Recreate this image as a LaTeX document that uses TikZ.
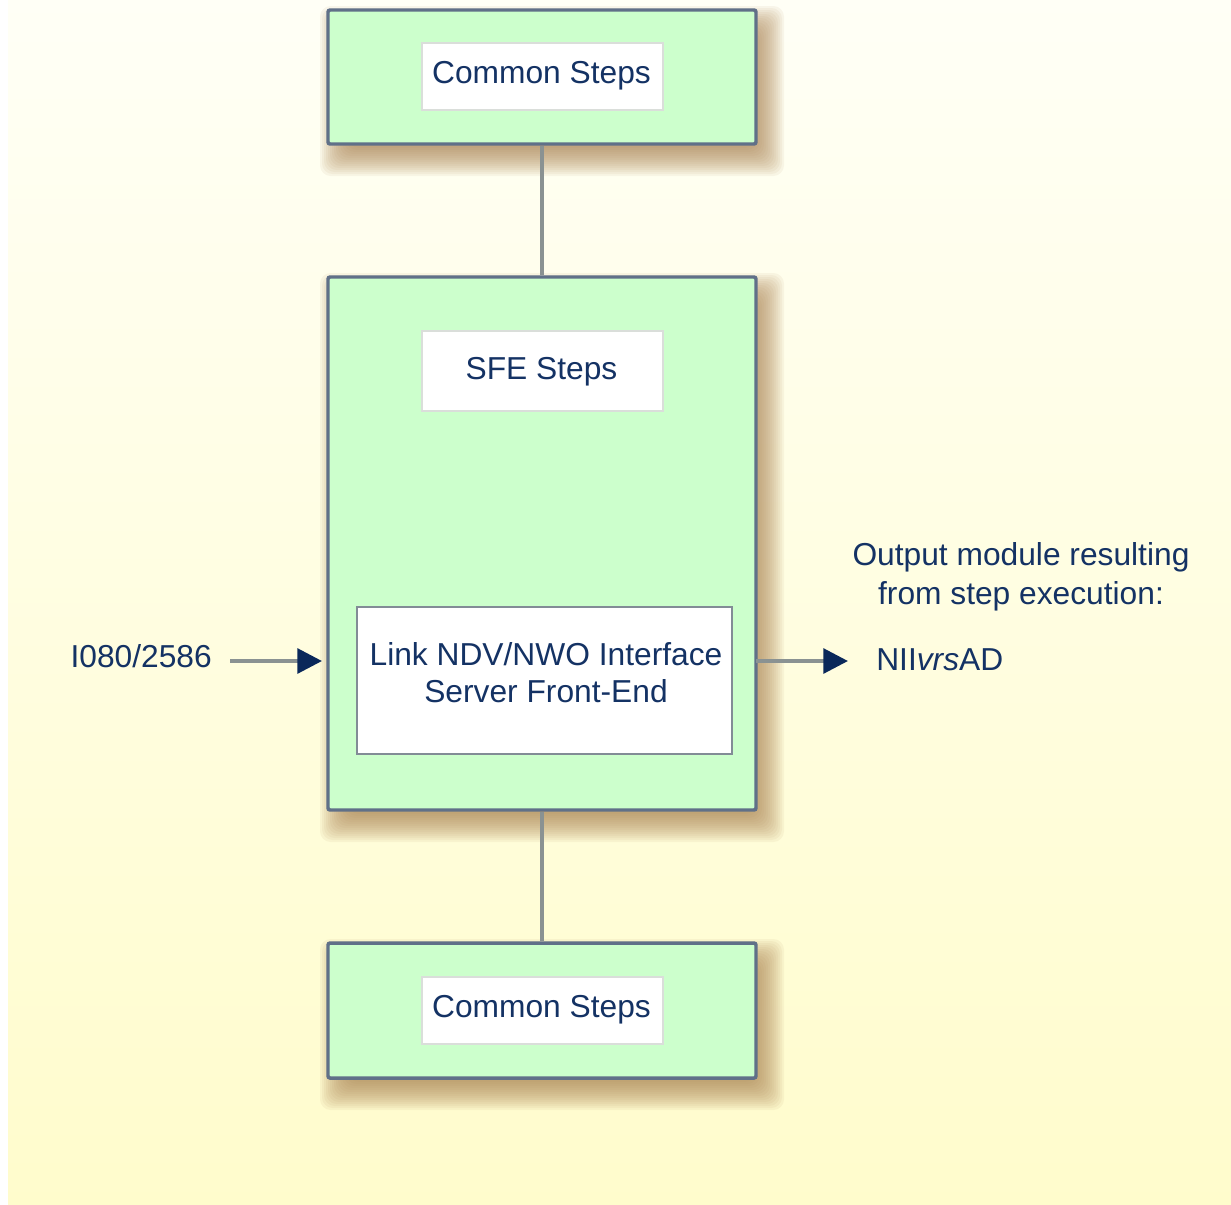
\documentclass[tikz,border=0pt]{standalone}
\usepackage{fontspec}
\setmainfont{Liberation Sans}
\usetikzlibrary{arrows.meta}
\definecolor{bgtop}{RGB}{255,255,246}
\definecolor{bgbot}{RGB}{255,252,204}
\definecolor{boxgreen}{RGB}{204,255,204}
\definecolor{boxborder}{RGB}{96,112,136}
\definecolor{linkgray}{RGB}{138,146,146}
\definecolor{navytext}{RGB}{20,50,100}
\definecolor{navytip}{RGB}{10,40,90}
\definecolor{lightframe}{RGB}{218,222,218}
\definecolor{midframe}{RGB}{130,140,150}
\definecolor{shadowcol}{RGB}{170,130,80}
\tikzset{
  greenbox/.style={draw=boxborder, line width=2.6pt, fill=boxgreen, rounded corners=1.5pt, inner sep=0pt},
  whitebox/.style={draw=lightframe, line width=0.9pt, fill=white, inner sep=0pt},
  linkbox/.style={draw=midframe, line width=1.8pt, fill=white, inner sep=0pt},
  lbl/.style={text=navytext, font=\fontsize{23.8}{28}\selectfont, inner sep=0pt},
  conn/.style={draw=linkgray, line width=3pt},
  arr/.style={draw=linkgray, line width=3pt, -{Triangle[length=18.5pt,width=18.5pt,color=navytip]}},
}
\newcommand{\softshadow}[4]{%
  \foreach \e in {-10,-8,...,18}{
    \fill[shadowcol, opacity=0.075, rounded corners=8pt]
      (#1+10-\e,#2+14-\e) rectangle (#3+10+\e,#4+14+\e);
  }%
}
\begin{document}
\begin{tikzpicture}[x=0.75pt,y=-0.75pt]
\useasboundingbox (0,0) rectangle (1231,1204);
% background
\shade[top color=bgtop, bottom color=bgbot] (8,-2) rectangle (1233,1206);
\fill[white] (-2,-2) rectangle (8,1206);
% shadows
\softshadow{328}{10}{756}{144}
\softshadow{328}{277}{756}{810}
\softshadow{328}{943}{756}{1078}
% main boxes
\node[greenbox, minimum width=428*0.75pt, minimum height=134*0.75pt] (top) at (542,77) {};
\node[greenbox, minimum width=428*0.75pt, minimum height=533*0.75pt] (mid) at (542,543.5) {};
\node[greenbox, minimum width=428*0.75pt, minimum height=135*0.75pt] (bot) at (542,1010.5) {};
% inner boxes
\node[whitebox, minimum width=241*0.75pt, minimum height=67*0.75pt] (cs1) at (542.5,76.5) {};
\node[lbl] (cs1t) at (541.5,76) {Common Steps};
\node[whitebox, minimum width=241*0.75pt, minimum height=80*0.75pt] (sfe) at (542.5,371) {};
\node[lbl] (sfet) at (541.5,372) {SFE Steps};
\node[linkbox, minimum width=375*0.75pt, minimum height=147*0.75pt] (link) at (544.5,680.5) {};
\node[lbl, align=center, font=\fontsize{23.8}{27.75}\selectfont] (linkt) at (546,673) {Link NDV/NWO Interface\\Server Front-End};
\node[whitebox, minimum width=241*0.75pt, minimum height=67*0.75pt] (cs2) at (542.5,1010.5) {};
\node[lbl] (cs2t) at (541.5,1010) {Common Steps};
% connectors
\draw[conn] (top.south) -- (mid.north);
\draw[conn] (mid.south) -- (bot.north);
% input / output
\node[lbl, anchor=east] (inlbl) at (212,656) {I080/2586};
\coordinate (instart) at (230,661);
\coordinate (inend) at (322,661);
\draw[arr] (instart) -- (inend);
\coordinate (outstart) at (756,661);
\coordinate (outend) at (848,661);
\draw[arr] (outstart) -- (outend);
\node[lbl, anchor=west] (outlbl) at (876,660) {NII\textit{vrs}AD};
\node[lbl, align=center, font=\fontsize{23.8}{29.25}\selectfont] (outdesc) at (1021,576.5) {Output module resulting\\from step execution:};
\end{tikzpicture}
\end{document}
